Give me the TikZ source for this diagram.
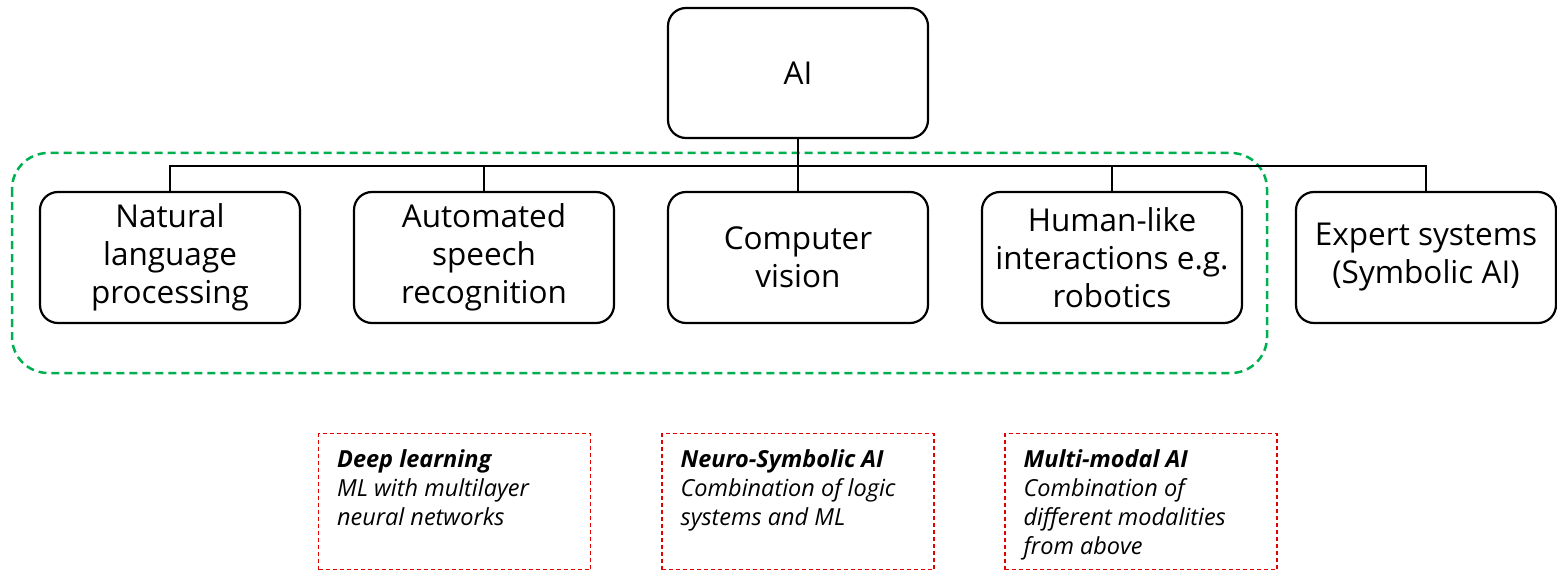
\documentclass[tikz,border=0pt]{standalone}
\usepackage{fontspec}
\setmainfont{Open Sans}
\definecolor{grn}{RGB}{0,176,80}
\definecolor{rd}{RGB}{230,0,0}
\begin{document}
\begin{tikzpicture}[x=1pt,y=-1pt,
  box/.style={draw=black,line width=2.2pt,rounded corners=18pt,minimum width=260pt,minimum height=131pt,align=center,inner sep=0pt,font=\fontsize{31.5}{38}\selectfont},
  conn/.style={draw=black,line width=2.2pt},
  note/.style={draw=rd,line width=1.1pt,dash pattern=on 4pt off 3pt,minimum width=272pt,minimum height=136pt,inner sep=0pt},
  notetext/.style={anchor=north west,align=left,inner sep=0pt,font=\fontsize{23.5}{29}\selectfont\itshape},
  group/.style={draw=grn,line width=2.5pt,dash pattern=on 8pt off 5pt,rounded corners=36pt}]
\useasboundingbox (0,0) rectangle (1557,572);
\draw[group] (12,153) rectangle (1267,373);
\node[box,minimum height=130pt] (ai) at (798,73) {AI};
\node[box] (nlp) at (170,257.5) {Natural\\language\\processing};
\node[box] (asr) at (484,257.5) {Automated\\speech\\recognition};
\node[box] (cv) at (798,257.5) {Computer\\vision};
\node[box] (hli) at (1112,257.5) {Human-like\\interactions e.g.\\robotics};
\node[box] (exp) at (1426,257.5) {Expert systems\\(Symbolic AI)};
\coordinate (bus) at (798,166);
\draw[conn] (ai.south) -- (bus);
\draw[conn] (nlp.north) |- (bus);
\draw[conn] (asr.north) |- (bus);
\draw[conn] (cv.north) -- (bus);
\draw[conn] (hli.north) |- (bus);
\draw[conn] (exp.north) |- (bus);
\node[note] (dl) at (454.5,501.5) {};
\node[note] (ns) at (798,501.5) {};
\node[note] (mm) at (1141,501.5) {};
\node[notetext] (dlt) at ([xshift=19pt,yshift=-16pt]dl.north west) {\textbf{Deep learning}\\ML with multilayer\\neural networks};
\node[notetext] (nst) at ([xshift=19pt,yshift=-16pt]ns.north west) {\textbf{Neuro-Symbolic AI}\\Combination of logic\\systems and ML};
\node[notetext] (mmt) at ([xshift=19pt,yshift=-16pt]mm.north west) {\textbf{Multi-modal AI}\\Combination of\\different modalities\\from above};
\end{tikzpicture}
\end{document}
